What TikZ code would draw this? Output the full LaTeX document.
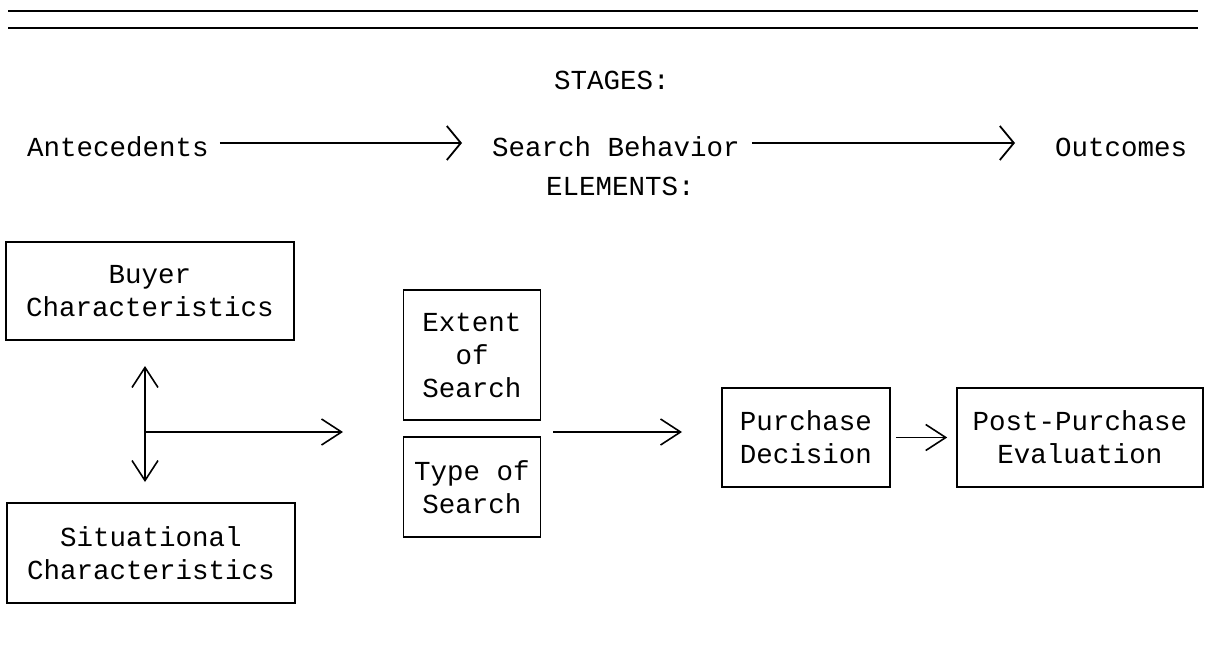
\documentclass[tikz,border=0pt]{standalone}
\usepackage{fontspec}
\newfontfamily\cour{Liberation Mono}
\usetikzlibrary{arrows.meta}
\begin{document}
\begin{tikzpicture}[x=1pt,y=-1pt,
  txt/.style={font=\cour\fontsize{27.5}{33}\selectfont, inner sep=0pt},
  box/.style={draw, line width=1.6pt, font=\cour\fontsize{27.5}{33}\selectfont, align=center, inner sep=0pt},
  arr/.style={line width=1.6pt, -{Straight Barb[length=20pt,width=26pt,line width=1.6pt]}},
  darr/.style={line width=1.6pt, {Straight Barb[length=20pt,width=26pt,line width=1.6pt]}-{Straight Barb[length=20pt,width=26pt,line width=1.6pt]}},
  sarr/.style={line width=1.8pt, -{Straight Barb[length=14pt,width=34pt,line width=1.8pt]}},
  rule/.style={line width=2.6pt}]
\useasboundingbox (0,0) rectangle (1205,645);
% top rules
\coordinate (r1a) at (8,11); \coordinate (r1b) at (1198,11);
\coordinate (r2a) at (8,28); \coordinate (r2b) at (1198,28);
\draw[rule] (r1a) -- (r1b);
\draw[rule] (r2a) -- (r2b);
% stages
\node[txt, anchor=west] (stages) at (554,80) {STAGES:};
\node[txt, anchor=west] (ante) at (27,147) {Antecedents};
\node[txt, anchor=west] (search) at (492,147) {Search Behavior};
\node[txt, anchor=west] (out) at (1055,147) {Outcomes};
\draw[sarr, shorten <=11pt, shorten >=30pt] ([yshift=4pt]ante.east) -- ([yshift=4pt]search.west);
\draw[sarr, shorten <=12pt, shorten >=40pt] ([yshift=4pt]search.east) -- ([yshift=4pt]out.west);
\node[txt, anchor=west] (elements) at (546,186) {ELEMENTS:};
% boxes
\node[box, minimum width=288pt, minimum height=98pt] (buyer) at (150,291) {Buyer\\Characteristics};
\node[box, minimum width=288pt, minimum height=100pt] (sit) at (151,553) {Situational\\Characteristics};
\node[box, minimum width=137pt, minimum height=130pt] (extent) at (472,355) {Extent\\of\\Search};
\node[box, minimum width=137pt, minimum height=100pt] (type) at (472,487) {Type of\\Search};
\node[box, minimum width=168pt, minimum height=99pt] (purchase) at (806,437.5) {Purchase\\Decision};
\node[box, minimum width=246pt, minimum height=99pt] (post) at (1080,437.5) {Post-Purchase\\Evaluation};
% connectors
\coordinate (j) at (145,432);
\coordinate (jt) at (145,366);
\coordinate (jb) at (145,482);
\coordinate (jr) at (343,432);
\draw[darr] (jt) -- (jb);
\draw[arr] (j) -- (jr);
\coordinate (s1) at (553,432);
\coordinate (s2) at (682,432);
\draw[arr] (s1) -- (s2);
\draw[arr, shorten <=5pt, shorten >=9pt] (purchase.east) -- (post.west);
\end{tikzpicture}
\end{document}
